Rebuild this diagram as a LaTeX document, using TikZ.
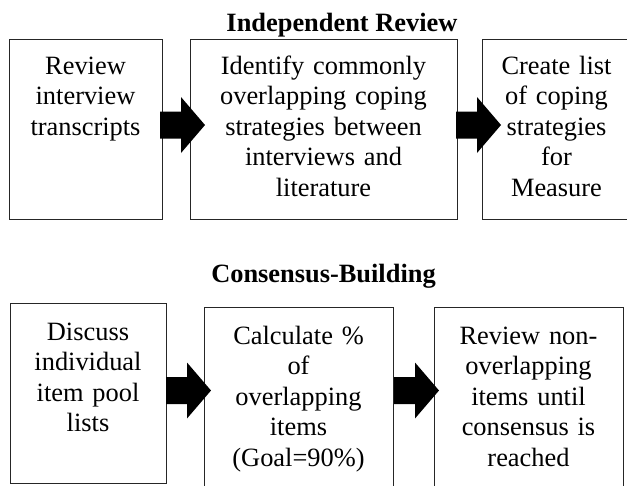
\documentclass[tikz,border=0pt]{standalone}
\usepackage{fontspec}
\setmainfont{Liberation Serif}
\begin{document}
\begin{tikzpicture}[x=1pt,y=-1pt,
  box/.style={draw=black!85,line width=1pt},
  boxtext/.style={anchor=base,align=center,text width=280pt,inner sep=0pt,
    font=\fontsize{26.4}{30.5}\selectfont},
  heading/.style={anchor=base,inner sep=0pt,font=\fontsize{26.4}{30.5}\selectfont\bfseries},
  barrow/.pic={\fill[black] (0,-13.5) -- (21,-13.5) -- (21,-28) -- (45,0) -- (21,28) -- (21,13.5) -- (0,13.5) -- cycle;}
]
\path[use as bounding box] (0,0) rectangle (627,485);
\clip (0,0) rectangle (627,485);
\fill[white] (0,0) rectangle (627,485);

% Independent Review
\node[heading] (t1) at (342,31) {Independent Review};
\draw[box] (9,39) rectangle (162,219) coordinate (b1);
\draw[box] (190,39) rectangle (457,219) coordinate (b2);
\draw[box] (482,39) rectangle (640,219) coordinate (b3);
\node[boxtext] (n1) at (85.5,74) {Review\\interview\\transcripts};
\node[boxtext] (n2) at (323.5,74) {Identify commonly\\overlapping coping\\strategies between\\interviews and\\literature};
\node[boxtext] (n3) at (556.5,74) {Create list\\of coping\\strategies\\for\\Measure};
\pic (a1) at (160,125) {barrow};
\pic (a2) at (456,125) {barrow};

% Consensus-Building
\node[heading] (t2) at (323.5,282) {Consensus-Building};
\draw[box] (10,303) rectangle (166,483) coordinate (b4);
\draw[box] (204,307) rectangle (393,500) coordinate (b5);
\draw[box] (434,307) rectangle (623,500) coordinate (b6);
\node[boxtext] (n4) at (88,340) {Discuss\\individual\\item pool\\lists};
\node[boxtext] (n5) at (298.5,344) {Calculate \%\\of\hspace*{12pt}\\overlapping\\items\\(Goal=90\%)};
\node[boxtext] (n6) at (528.5,344) {Review non-\\overlapping\\items until\\consensus is\\reached};
\pic (a3) at (166,390.5) {barrow};
\pic (a4) at (394,390.5) {barrow};
\end{tikzpicture}
\end{document}
